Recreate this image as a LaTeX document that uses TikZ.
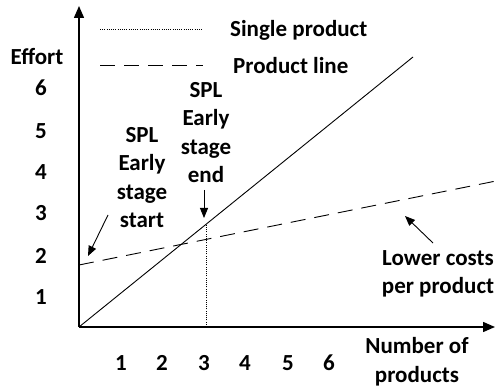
\documentclass[tikz,border=0pt]{standalone}
\usepackage{fontspec}
\setmainfont{Carlito}
\usetikzlibrary{arrows.meta}
\begin{document}
\begin{tikzpicture}[x=1pt,y=-1pt,
  lbl/.style={font=\fontsize{23}{28.5}\selectfont\bfseries, inner sep=0pt, align=center},
  axis/.style={line width=1.5pt, -{Triangle[length=12pt,width=10pt]}},
  single/.style={line width=0.9pt},
  dotline/.style={line width=0.9pt, dash pattern=on 1pt off 1.2pt},
  dashline/.style={line width=0.9pt, dash pattern=on 15pt off 9pt},
  pointer/.style={line width=0.9pt, -{Triangle[length=10pt,width=8pt]}}]
\useasboundingbox (0,0) rectangle (496,387);

% axes
\coordinate (O) at (79,327);
\coordinate (ytop) at (79,6);
\coordinate (xend) at (495,327);
\draw[axis] (O) -- (ytop);
\draw[axis] (O) -- (xend);

% effort curves
\coordinate (s1) at (413,57);
\draw[single] (O) -- (s1);
\coordinate (p0) at (79,265);
\coordinate (p1) at (496,181);
\draw[dashline] (p0) -- (p1);
\coordinate (d0) at (206,327);
\coordinate (d1) at (206,224.5);
\draw[dotline] (d0) -- (d1);

% legend
\coordinate (la0) at (100,29);
\coordinate (la1) at (203,29);
\coordinate (lb0) at (100,65);
\coordinate (lb1) at (203,65);
\draw[dotline] (la0) -- (la1);
\draw[dashline] (lb0) -- (lb1);
\node[lbl, anchor=west] (legsingle) at (230,30) {Single product};
\node[lbl, anchor=west] (legline) at (233,66) {Product line};

% y axis labels
\node[lbl] (effort) at (37,57) {Effort};
\node[lbl] (y6) at (41,88) {6};
\node[lbl] (y5) at (41,131) {5};
\node[lbl] (y4) at (41,172) {4};
\node[lbl] (y3) at (41,213) {3};
\node[lbl] (y2) at (41,256) {2};
\node[lbl] (y1) at (41,297) {1};

% x axis labels
\node[lbl] (x1) at (121,363) {1};
\node[lbl] (x2) at (162,363) {2};
\node[lbl] (x3) at (204,363) {3};
\node[lbl] (x4) at (245,363) {4};
\node[lbl] (x5) at (288,363) {5};
\node[lbl] (x6) at (329,363) {6};
\node[lbl] (xtitle) at (417,361.5) {Number of\\products};

% annotations
\node[lbl] (startlbl) at (142,177.5) {SPL\\Early\\stage\\start};
\node[lbl] (endlbl) at (206,132.5) {SPL\\Early\\stage\\end};
\node[lbl] (lowerlbl) at (438,274) {Lower costs\\per product};

\coordinate (a1s) at (108,215);
\coordinate (a1e) at (88,256);
\coordinate (a2s) at (204,190);
\coordinate (a2e) at (204,218);
\coordinate (a3s) at (433,243);
\coordinate (a3e) at (405,216);
\draw[pointer] (a1s) -- (a1e);
\draw[pointer] (a2s) -- (a2e);
\draw[pointer] (a3s) -- (a3e);
\end{tikzpicture}
\end{document}
